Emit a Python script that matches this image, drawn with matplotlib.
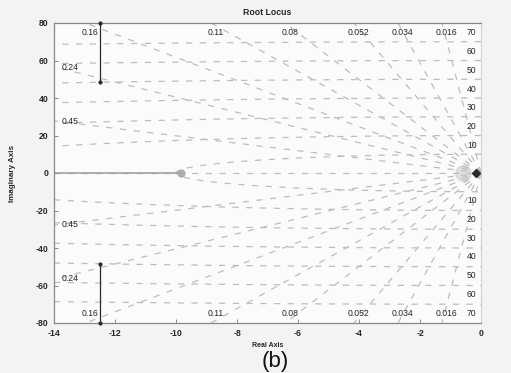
import numpy as np
import matplotlib
matplotlib.use('Agg')
import matplotlib.pyplot as plt


DPI = 100

# sgrid values (damping ratios and natural frequencies)
zeta_vals = [0.016, 0.034, 0.052, 0.08, 0.11, 0.16, 0.24, 0.45]
zeta_labels = ['0.016', '0.034', '0.052', '0.08', '0.11', '0.16', '0.24', '0.45']
wn_vals = [10, 20, 30, 40, 50, 60, 70]

# visible root locus pieces
branch_x = [-12.5, -12.5]
branch_y = [48.5, 80.0]
real_branch_x = [-14.0, -9.85]
pole_x = [-9.85, 0.0]

x_ticks = [-14, -12, -10, -8, -6, -4, -2, 0]
y_ticks = [-80, -60, -40, -20, 0, 20, 40, 60, 80]

XLIM = [-14, 0]
YLIM = [-80, 80]

GRID_COLOR = '#bdbdbd'
TEXT_COLOR = '#262626'


def draw_sgrid(ax):
    dash = (0, (5, 6))
    # constant damping rays
    for z, lab in zip(zeta_vals, zeta_labels):
        slope = np.sqrt(1 - z ** 2) / z
        r = np.array([0.0, 200.0])
        for s in (1, -1):
            ax.plot(-r, s * slope * r, ls=dash, color=GRID_COLOR, lw=0.9, zorder=1)
        x_top = -YLIM[1] / slope
        if x_top > XLIM[0]:
            for s in (1, -1):
                ax.text(x_top + 0.15, s * 74.7, lab, ha='center', va='center',
                        fontsize=6.2, color=TEXT_COLOR, zorder=3)
        else:
            y_left = -XLIM[0] * slope
            for s in (1, -1):
                ax.text(-13.75, s * (y_left - 0.3), lab, ha='left', va='center',
                        fontsize=6.2, color=TEXT_COLOR, zorder=3)
    # real axis
    ax.plot(XLIM, [0, 0], ls=dash, color=GRID_COLOR, lw=0.9, zorder=1)
    # constant natural frequency circles
    th = np.linspace(np.pi / 2, 3 * np.pi / 2, 400)
    for wn in wn_vals:
        ax.plot(wn * np.cos(th), wn * np.sin(th), ls=dash, color=GRID_COLOR,
                lw=0.9, zorder=1)
        for s in (1, -1):
            ax.text(-0.3, s * (wn + 4.7), str(wn), ha='center', va='center',
                    fontsize=6.2, color=TEXT_COLOR, zorder=3)


def gen_figure(filename):
    plt.rcParams['font.family'] = ['Liberation Sans', 'DejaVu Sans']
    plt.rcParams['axes.unicode_minus'] = False
    fig = plt.figure(figsize=(511 / DPI, 373 / DPI), dpi=DPI, facecolor='#f3f3f3')
    ax = fig.add_axes([54 / 511, 50 / 373, 427 / 511, 300 / 373])
    ax.set_facecolor('#fbfbfb')

    draw_sgrid(ax)

    # locus branches
    for s in (1, -1):
        ax.plot(branch_x, [s * v for v in branch_y], color='#2a2a2a', lw=0.9,
                marker='.', ms=4, zorder=4, clip_on=False)
    ax.plot(real_branch_x, [0, 0], color='#9a9a9a', lw=1.1, zorder=2)
    ax.plot(pole_x[0], 0, 'o', color='#a5a5a5', ms=5, alpha=0.8, zorder=3)
    ax.plot(-0.6, 0, 'o', color='#c4c4c4', ms=11, alpha=0.5, zorder=3)
    ax.plot(pole_x[1] - 0.15, 0, 'D', color='#2a2a2a', ms=4.5, zorder=5, clip_on=False)

    ax.set_xlim(*XLIM)
    ax.set_ylim(*YLIM)
    ax.set_xticks(x_ticks)
    ax.set_yticks(y_ticks)
    ax.tick_params(direction='in', length=3, width=0.6, colors='#777777',
                   labelsize=6.2, labelcolor=TEXT_COLOR, pad=4)
    for lab in ax.get_xticklabels() + ax.get_yticklabels():
        lab.set_fontweight('bold')
    for side in ('left', 'bottom', 'top'):
        ax.spines[side].set_color('#888888')
        ax.spines[side].set_linewidth(0.9)
    ax.spines['right'].set_color('#d0d0d0')
    ax.spines['right'].set_linewidth(0.8)

    ax.set_title('Root Locus', fontsize=6.3, fontweight='bold', color=TEXT_COLOR, pad=6)
    ax.set_ylabel('Imaginary Axis', fontsize=5.8, fontweight='bold',
                  color=TEXT_COLOR, labelpad=14)
    ax.set_xlabel('Real Axis', fontsize=5, fontweight='bold', color=TEXT_COLOR,
                  labelpad=3)
    fig.text(275 / 511, 1 - 362 / 373, '(b)', ha='center', va='center',
             fontsize=16, color='#111111')

    fig.savefig(filename, dpi=DPI, facecolor=fig.get_facecolor())


if __name__ == '__main__':
    gen_figure('out.png')
